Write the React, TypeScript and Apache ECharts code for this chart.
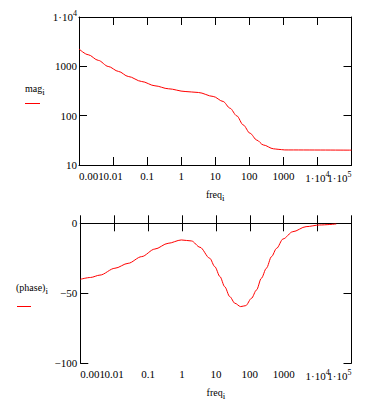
import React, { useEffect, useRef } from "react";
import * as echarts from "echarts";

// Magnitude plot data
const magFreq = [0.001, 0.00186, 0.0037, 0.0072, 0.0145, 0.028, 0.069, 0.17, 0.42, 1.3, 3.2, 8.7, 17, 27, 43, 66, 105, 166, 257, 513, 700, 1100, 100000];
const magValues = [2250, 1720, 1320, 995, 788, 623, 493, 403, 351, 309, 295, 245, 194, 142, 99, 65, 44, 32, 25.5, 21.3, 20.8, 20.2, 20.0];

// Phase plot data
const phaseFreq = [0.001, 0.002, 0.0038, 0.0105, 0.0257, 0.0646, 0.158, 0.389, 0.955, 1.9, 3.39, 6.6, 9.3, 13.2, 18.2, 25.7, 36.3, 53.7, 75.9, 112, 158, 219, 309, 437, 617, 955, 1860, 4570, 11500, 35500];
const phaseValues = [-40, -38.7, -37, -32.1, -28.6, -23.8, -18.4, -14.3, -11.9, -12.6, -17.1, -25, -31, -38.1, -45.3, -52.4, -57.1, -59.5, -58.8, -53.6, -47.6, -39.3, -32.1, -23.8, -17.9, -11.2, -6.0, -2.4, -1.2, -0.5];

// Axis ranges / tick labels
const freqRange = [0.001, 100000];
const magRange = [10, 10000];
const phaseRange = [-100, 0];
const xName = "freq";
const magLabel = "mag";
const phaseLabel = "(phase)";

const FONT = "'Liberation Serif', 'Times New Roman', serif";
const RED = "#ff0000";

const rich = {
  n: { fontFamily: FONT, fontSize: 11, color: "#000" },
  s: { fontFamily: FONT, fontSize: 8, color: "#000", padding: [0, 0, 7, 0] },
  a: { fontFamily: FONT, fontSize: 10, color: "#000" },
  b: { fontFamily: FONT, fontSize: 9, color: "#000", padding: [7, 0, 0, 0] },
};

function logLabel(v: number) {
  const e = Math.round(Math.log10(v));
  if (e >= 4) return `{n|1·10}{s|${e}}`;
  if (e < 0) return Math.pow(10, e).toFixed(-e);
  return String(Math.round(Math.pow(10, e)));
}
const isEnd = (v: number) => {
  const e = Math.round(Math.log10(v));
  return e === Math.round(Math.log10(freqRange[0])) || e === Math.round(Math.log10(freqRange[1]));
};
function phaseLabelFmt(v: number) {
  if (v < 0) return "\u2212" + Math.abs(v);
  return String(v);
}

const lineStyle = { color: "#000", width: 1 };

// kind: "main" (bottom axis, inner labels), "ends" (bottom, only min/max labels), "top"
function xAxisDef(grid: number, kind: string) {
  const labelBase = {
    show: true,
    fontFamily: FONT,
    fontSize: 11,
    color: "#000",
    margin: 5,
    showMinLabel: true,
    showMaxLabel: true,
    hideOverlap: false,
    rich,
  };
  let axisLabel: any = { show: false };
  if (kind === "main") axisLabel = { ...labelBase, formatter: (v: number) => (isEnd(v) ? "" : logLabel(v)) };
  if (kind === "ends")
    axisLabel = {
      ...labelBase,
      formatter: (v: number) => (isEnd(v) ? logLabel(v) : ""),
      alignMinLabel: "left",
      alignMaxLabel: "right",
    };
  return {
    type: "log",
    logBase: 10,
    gridIndex: grid,
    position: kind === "top" ? "top" : "bottom",
    min: freqRange[0],
    max: freqRange[1],
    interval: 1,
    axisLine: { show: kind !== "ends", lineStyle },
    axisTick: { show: kind !== "ends", inside: true, length: 8, lineStyle },
    splitLine: { show: false },
    minorTick: { show: false },
    axisLabel,
    name: kind === "main" ? `{a|${xName}}{b|i}` : "",
    nameLocation: "middle",
    nameGap: 21,
    nameTextStyle: { rich, fontFamily: FONT, fontSize: 10, color: "#000" },
  };
}

function yAxisDef(grid: number, right: boolean, log: boolean) {
  const base: any = {
    gridIndex: grid,
    position: right ? "right" : "left",
    axisLine: { show: true, lineStyle },
    axisTick: { show: true, inside: true, length: 8, lineStyle },
    splitLine: { show: false },
    axisLabel: right
      ? { show: false }
      : {
          show: true,
          formatter: log ? logLabel : phaseLabelFmt,
          fontFamily: FONT,
          fontSize: 11,
          color: "#000",
          margin: log ? 2 : 3,
          rich,
        },
  };
  if (log) {
    return { ...base, type: "log", logBase: 10, min: magRange[0], max: magRange[1], interval: 1 };
  }
  return { ...base, type: "value", min: phaseRange[0], max: phaseRange[1], interval: 50 };
}

export default function App() {
  const ref = useRef<HTMLDivElement>(null);
  useEffect(() => {
    if (!ref.current) return;
    const chart = echarts.init(ref.current, undefined, { renderer: "svg" });
    chart.setOption({
      animation: false,
      backgroundColor: "#fff",
      grid: [
        { left: 79, top: 17, width: 272.5, height: 148 },
        { left: 80.3, top: 223.3, width: 271.2, height: 140 },
      ],
      xAxis: [
        xAxisDef(0, "main"),
        xAxisDef(0, "top"),
        xAxisDef(0, "ends"),
        xAxisDef(1, "main"),
        xAxisDef(1, "top"),
        xAxisDef(1, "ends"),
      ],
      yAxis: [yAxisDef(0, false, true), yAxisDef(0, true, true), yAxisDef(1, false, false), yAxisDef(1, true, false)],
      series: [
        {
          type: "line",
          xAxisIndex: 0,
          yAxisIndex: 0,
          data: magFreq.map((f, i) => [f, magValues[i]]),
          showSymbol: false,
          smooth: 0.3,
          smoothMonotone: "x",
          lineStyle: { color: RED, width: 1 },
          itemStyle: { color: RED },
        },
        {
          type: "line",
          xAxisIndex: 3,
          yAxisIndex: 2,
          data: phaseFreq.map((f, i) => [f, phaseValues[i]]),
          showSymbol: false,
          smooth: 0.3,
          smoothMonotone: "x",
          lineStyle: { color: RED, width: 1 },
          itemStyle: { color: RED },
        },
      ],
      graphic: [
        { type: "text", x: 25, y: 80, style: { text: `{a|${magLabel}}{b|i}`, rich } },
        { type: "line", shape: { x1: 25, y1: 103.5, x2: 40, y2: 103.5 }, style: { stroke: RED, lineWidth: 1 } },
        { type: "text", x: 16, y: 279, style: { text: `{a|${phaseLabel}}{b|i}`, rich } },
        { type: "line", shape: { x1: 17, y1: 306.5, x2: 31, y2: 306.5 }, style: { stroke: RED, lineWidth: 1 } },
      ],
    });
    return () => chart.dispose();
  }, []);
  return <div ref={ref} style={{ position: "fixed", left: 0, top: 0, width: 367, height: 403 }} />;
}
